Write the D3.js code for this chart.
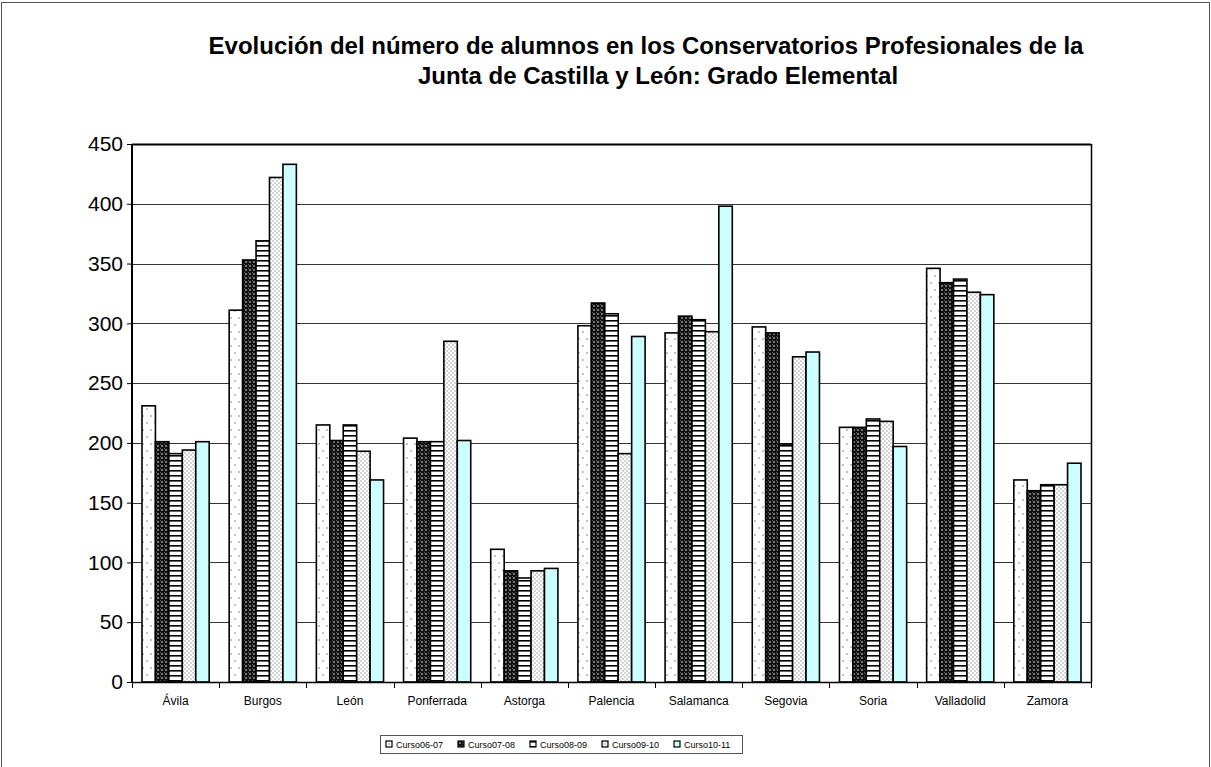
<!DOCTYPE html>
<html lang="es">
    <head>
        <meta charset="utf-8">
        <title>Evolución del número de alumnos - Grado Elemental</title>
        <script type="text/javascript" src="https://d3js.org/d3.v7.min.js"></script>
        <style type="text/css">
            body { margin: 0; background: #fff; }
            text { font-family: Arial, "Liberation Sans", sans-serif; }
        </style>
    </head>
    <body>
        <script type="text/javascript">

            // Datos
            var conservatorios = ["Ávila", "Burgos", "León", "Ponferrada", "Astorga", "Palencia",
                                  "Salamanca", "Segovia", "Soria", "Valladolid", "Zamora"];
            var cursos = ["Curso06-07", "Curso07-08", "Curso08-09", "Curso09-10", "Curso10-11"];

            var curso0607 = [231, 311, 215, 204, 111, 298, 292, 297, 213, 346, 169];
            var curso0708 = [201, 353, 202, 201,  93, 317, 306, 292, 213, 334, 160];
            var curso0809 = [191, 369, 215, 201,  87, 308, 303, 199, 220, 337, 165];
            var curso0910 = [194, 422, 193, 285,  93, 191, 293, 272, 218, 326, 165];
            var curso1011 = [201, 433, 169, 202,  95, 289, 398, 276, 197, 324, 183];
            var series = [curso0607, curso0708, curso0809, curso0910, curso1011];

            var yTicks = [0, 50, 100, 150, 200, 250, 300, 350, 400, 450];

            // Tamaño (ojo: "top" es de window, no usarlo)
            var w = 1211, h = 767;
            var plotL = 132, plotR = 1091, plotT = 144, plotB = 682;

            var svg = d3.select("body")
                        .append("svg")
                        .attr("width", w)
                        .attr("height", h);

            // Tramas
            var defs = svg.append("defs");

            var p0 = defs.append("pattern").attr("id", "p0")
                .attr("patternUnits", "userSpaceOnUse").attr("width", 8).attr("height", 14);
            p0.append("rect").attr("width", 8).attr("height", 14).attr("fill", "#fff");
            p0.append("circle").attr("cx", 3).attr("cy", 3).attr("r", 0.8).attr("fill", "#777");
            p0.append("circle").attr("cx", 7).attr("cy", 10).attr("r", 0.8).attr("fill", "#777");

            var p1 = defs.append("pattern").attr("id", "p1")
                .attr("patternUnits", "userSpaceOnUse").attr("width", 4).attr("height", 4);
            p1.append("rect").attr("width", 4).attr("height", 4).attr("fill", "#111");
            p1.append("circle").attr("cx", 2).attr("cy", 2).attr("r", 1.1).attr("fill", "#8a8a8a");
            p1.append("rect").attr("x", 0).attr("y", 0).attr("width", 1).attr("height", 1).attr("fill", "#555");

            var p2 = defs.append("pattern").attr("id", "p2")
                .attr("patternUnits", "userSpaceOnUse").attr("width", 6).attr("height", 5);
            p2.append("rect").attr("width", 6).attr("height", 5).attr("fill", "#fff");
            p2.append("rect").attr("y", 0).attr("width", 6).attr("height", 1.6).attr("fill", "#000");

            var p3 = defs.append("pattern").attr("id", "p3")
                .attr("patternUnits", "userSpaceOnUse").attr("width", 4).attr("height", 4);
            p3.append("rect").attr("width", 4).attr("height", 4).attr("fill", "#fff");
            p3.append("circle").attr("cx", 1).attr("cy", 1).attr("r", 0.7).attr("fill", "#888");
            p3.append("circle").attr("cx", 3).attr("cy", 3).attr("r", 0.7).attr("fill", "#888");

            var fills = ["url(#p0)", "url(#p1)", "url(#p2)", "url(#p3)", "#ccffff"];

            // Marco exterior
            svg.append("rect")
                .attr("x", 1.5).attr("y", 2.5)
                .attr("width", w - 3).attr("height", h - 2)
                .attr("fill", "none").attr("stroke", "#555").attr("stroke-width", 1);

            // Titulo
            var title = svg.append("text")
                .attr("text-anchor", "middle")
                .attr("font-weight", "bold")
                .attr("font-size", "24px")
                .attr("fill", "#000");
            title.append("tspan").attr("x", 646).attr("y", 54)
                .text("Evolución del número de alumnos en los Conservatorios Profesionales de la");
            title.append("tspan").attr("x", 658).attr("y", 84)
                .text("Junta de Castilla y León: Grado Elemental");

            // Escalas
            var x0 = d3.scaleBand()
                        .domain(conservatorios)
                        .range([plotL, plotR])
                        .padding(0);

            var x1 = d3.scaleBand()
                        .domain(d3.range(cursos.length))
                        .range([10, x0.bandwidth() - 10])
                        .padding(0);

            var yScale = d3.scaleLinear()
                            .domain([0, 450])
                            .range([plotB, plotT]);

            // Rejilla
            svg.append("g")
                .selectAll("line")
                .data(yTicks.slice(1))
                .enter()
                .append("line")
                .attr("x1", plotL).attr("x2", plotR)
                .attr("y1", function(d){ return Math.round(yScale(d)) + 0.5; })
                .attr("y2", function(d){ return Math.round(yScale(d)) + 0.5; })
                .attr("stroke", function(d){ return d === 450 ? "#000" : "#333"; })
                .attr("stroke-width", function(d){ return d === 450 ? 2 : 1; });

            svg.append("line")
                .attr("x1", plotR + 0.5).attr("x2", plotR + 0.5)
                .attr("y1", plotT).attr("y2", plotB)
                .attr("stroke", "#000").attr("stroke-width", 1.5);

            // Barras
            var groups = svg.append("g")
                .selectAll("g")
                .data(series)
                .enter()
                .append("g")
                .attr("fill", function(d, i){ return fills[i]; });

            groups.selectAll("rect")
                .data(function(d, i){
                    return d.map(function(v, j){ return {s: i, c: conservatorios[j], v: v}; });
                })
                .enter()
                .append("rect")
                .attr("x", function(d){ return x0(d.c) + x1(d.s); })
                .attr("y", function(d){ return yScale(d.v); })
                .attr("width", x1.bandwidth())
                .attr("height", function(d){ return plotB - yScale(d.v); })
                .attr("stroke", "#000")
                .attr("stroke-width", 1.6);

            // Ejes
            var xAxis = d3.axisBottom(x0).tickSize(0).tickPadding(14);
            var gx = svg.append("g")
                .attr("transform", "translate(0," + plotB + ")")
                .call(xAxis);
            gx.select(".domain").attr("stroke", "#000").attr("stroke-width", 1.5);
            gx.selectAll("text").attr("font-size", "12px").attr("fill", "#000")
                .attr("font-family", "Arial, 'Liberation Sans', sans-serif");

            // Marcas entre categorias
            svg.append("g")
                .selectAll("line")
                .data(conservatorios.concat(["fin"]))
                .enter()
                .append("line")
                .attr("x1", function(d, i){ return Math.round(plotL + i * x0.bandwidth()) + 0.5; })
                .attr("x2", function(d, i){ return Math.round(plotL + i * x0.bandwidth()) + 0.5; })
                .attr("y1", plotB).attr("y2", plotB + 6)
                .attr("stroke", "#000");

            var yAxis = d3.axisLeft(yScale).tickValues(yTicks).tickSize(5).tickPadding(4);
            var gy = svg.append("g")
                .attr("transform", "translate(" + plotL + ",0)")
                .call(yAxis);
            gy.select(".domain").attr("stroke", "#000").attr("stroke-width", 2).attr("d", "M0," + plotT + "V" + plotB);
            gy.selectAll("text").attr("font-size", "21px").attr("fill", "#000")
                .attr("font-family", "Arial, 'Liberation Sans', sans-serif");

            // Leyenda
            var legend = svg.append("g").attr("transform", "translate(380,735)");
            legend.append("rect")
                .attr("x", 0.5).attr("y", 0.5).attr("width", 362).attr("height", 18)
                .attr("fill", "#fff").attr("stroke", "#555");

            var items = legend.selectAll("g.item")
                .data(cursos)
                .enter()
                .append("g")
                .attr("class", "item")
                .attr("transform", function(d, i){ return "translate(" + (6 + i * 72) + ",6)"; });

            items.append("rect")
                .attr("width", 6).attr("height", 6)
                .attr("fill", function(d, i){ return fills[i]; })
                .attr("stroke", "#000").attr("stroke-width", 1.2);

            items.append("text")
                .attr("x", 10).attr("y", 6.5)
                .attr("font-size", "9px")
                .attr("fill", "#000")
                .text(function(d){ return d; });

        </script>
    </body>
</html>
